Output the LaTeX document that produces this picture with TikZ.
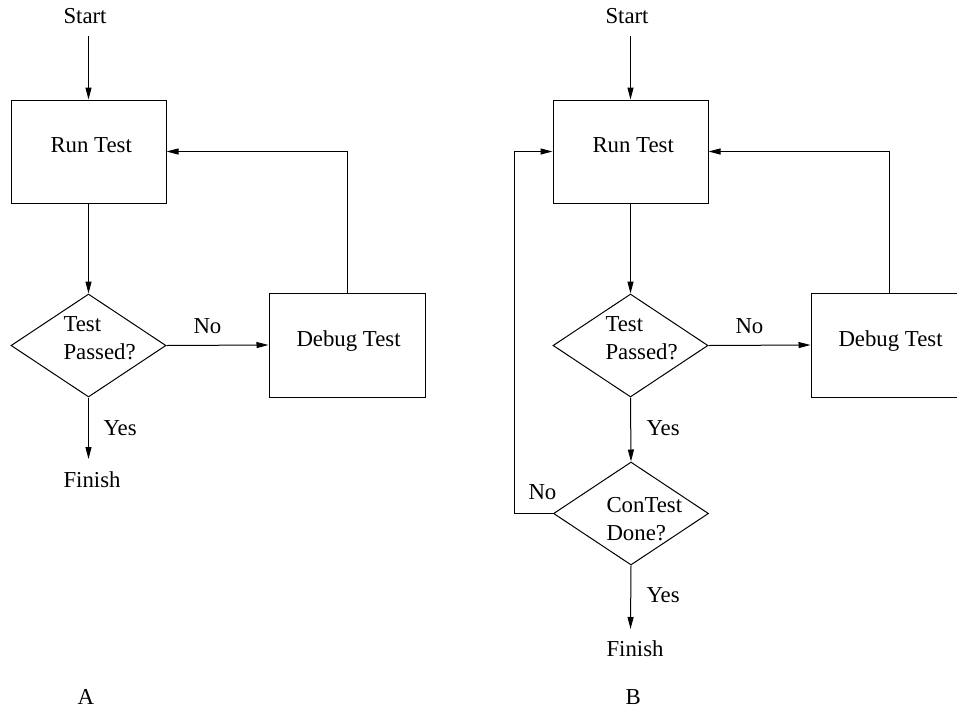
\documentclass[tikz,border=0pt]{standalone}
\usepackage{fontspec}
\setmainfont{Liberation Serif}
\usetikzlibrary{shapes.geometric,arrows.meta}
\tikzset{
  fbox/.style={draw, rectangle, minimum width=116.25pt, minimum height=77.25pt, inner sep=0pt},
  fdia/.style={draw, diamond, minimum width=116.25pt, minimum height=77.25pt, inner sep=0pt},
  txt/.style={anchor=base west, inner sep=0pt, align=left, font=\fontsize{17.1}{20.3}\selectfont},
  arr/.style={-{Triangle[length=9pt,width=4.5pt]}},
}
\begin{document}
\begin{tikzpicture}[x=0.75pt,y=-0.75pt,line width=0.75pt]
\useasboundingbox (0,0) rectangle (957,711);
\clip (0,0) rectangle (957,711);
% ---------- A ----------
\node[fbox] (runA) at (88.5,151.5) {};
\node[fdia] (decA) at (88.5,345.5) {};
\node[fbox, minimum width=117pt, minimum height=78pt] (dbgA) at (347,345) {};
\coordinate (sA) at (88.5,36);
\coordinate (fA) at (88.5,459);
\node[txt] (startA) at (63,23) {Start};
\node[txt] (runAt) at (50,152) {Run Test};
\node[txt] (decAt) at (63,359) {Test\\Passed?};
\node[txt] (noA) at (193,333) {No};
\node[txt] (dbgAt) at (296,346) {Debug Test};
\node[txt] (yesA) at (103,435) {Yes};
\node[txt] (finA) at (63,487) {Finish};
\node[txt] (labA) at (77,704) {A};
\draw[arr] (sA) -- (runA.north);
\draw[arr] (runA.south) -- (decA.north);
\draw[arr] (decA.east) -- (dbgA.west);
\draw[arr] (dbgA.north) |- (runA.east);
\draw[arr] (decA.south) -- (fA);
% ---------- B ----------
\node[fbox] (runB) at (630.5,151.5) {};
\node[fdia] (decB) at (630.5,345.5) {};
\node[fbox, minimum width=117pt, minimum height=78pt] (dbgB) at (889,345) {};
\node[fdia] (conB) at (631,513.5) {};
\coordinate (sB) at (630.5,36);
\coordinate (fB) at (630.5,629);
\node[txt] (startB) at (605,23) {Start};
\node[txt] (runBt) at (592,152) {Run Test};
\node[txt] (decBt) at (605,359) {Test\\Passed?};
\node[txt] (noB) at (735,333) {No};
\node[txt] (dbgBt) at (838,346) {Debug Test};
\node[txt] (yesB1) at (646,435) {Yes};
\node[txt] (conBt) at (606,540) {ConTest\\Done?};
\node[txt] (noB2) at (528,499) {No};
\node[txt] (yesB2) at (646,602) {Yes};
\node[txt] (finB) at (606,656) {Finish};
\node[txt] (labB) at (625,704) {B};
\draw[arr] (sB) -- (runB.north);
\draw[arr] (runB.south) -- (decB.north);
\draw[arr] (decB.east) -- (dbgB.west);
\draw[arr] (dbgB.north) |- (runB.east);
\draw[arr] (decB.south) -- (conB.north);
\draw[arr] (conB.west) -- ++(-39,0) |- (runB.west);
\draw[arr] (conB.south) -- (fB);
\end{tikzpicture}
\end{document}
